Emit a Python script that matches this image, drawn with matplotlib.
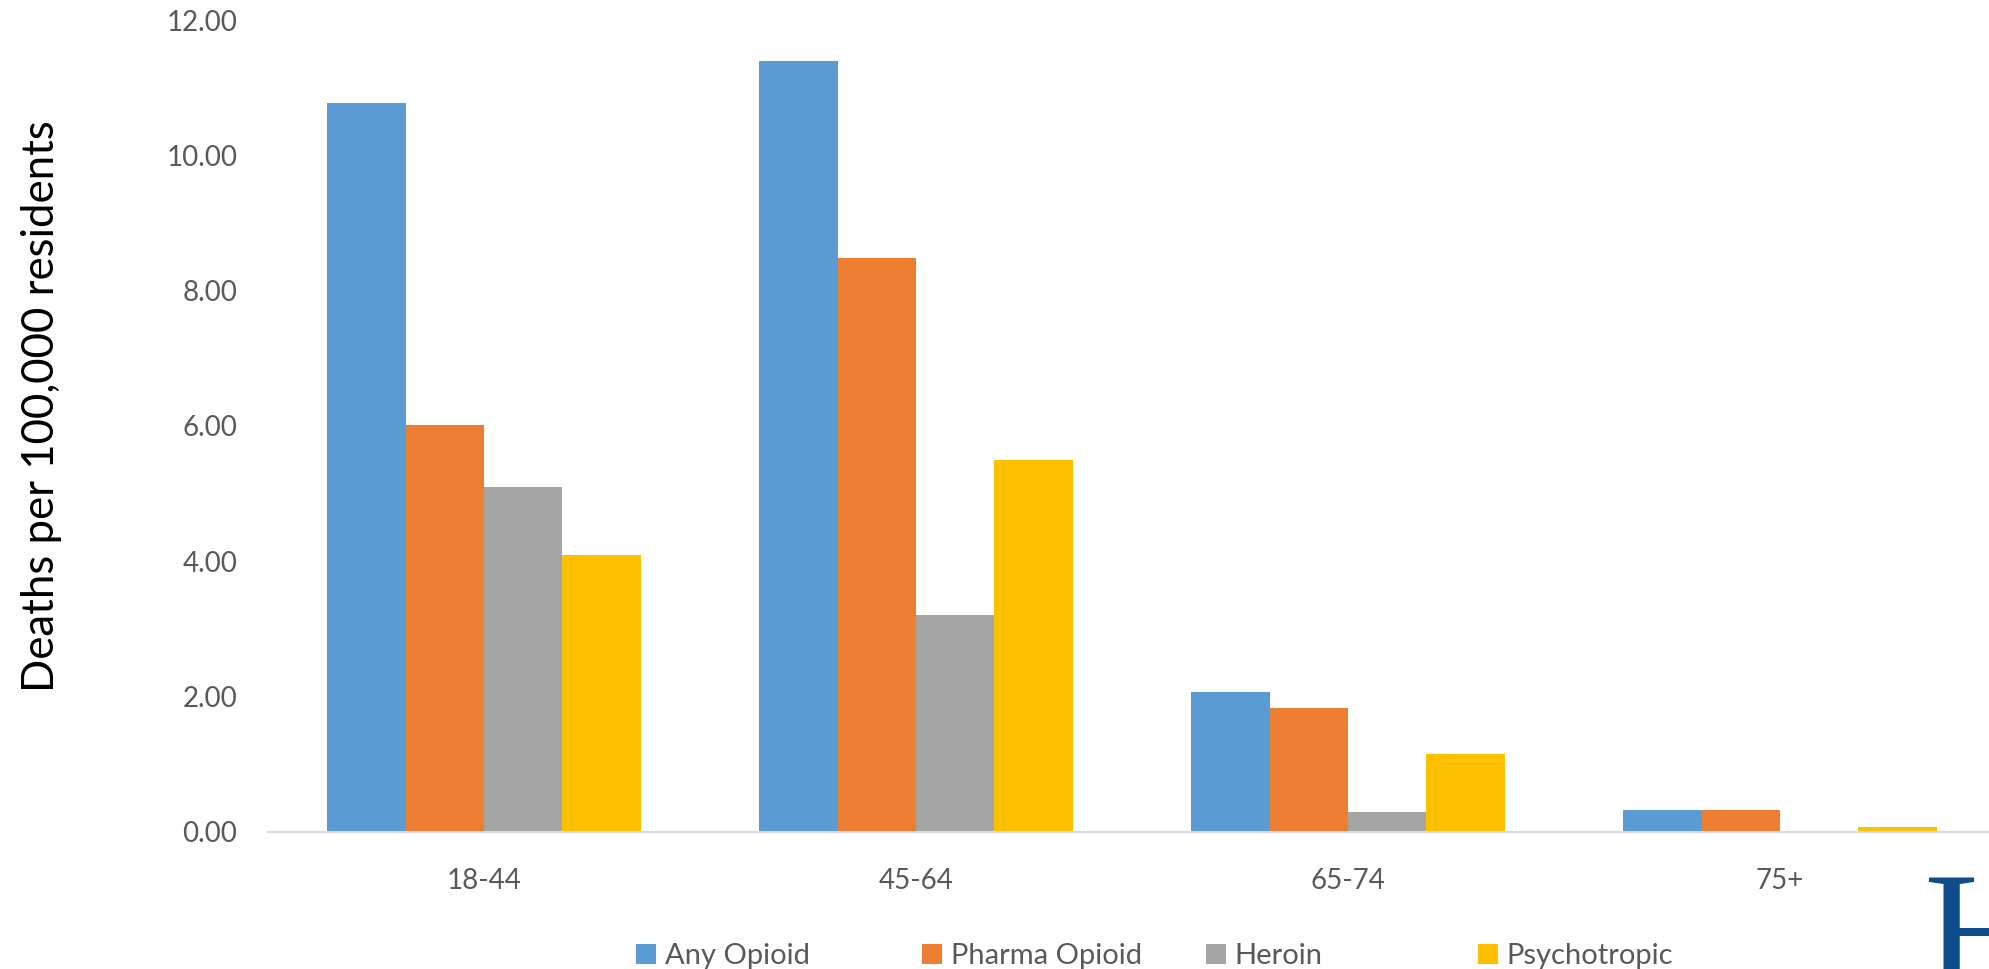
import matplotlib.pyplot as plt
import numpy as np

plt.rcParams["font.family"] = ["Lato", "DejaVu Sans"]

age_groups = ["18-44", "45-64", "65-74", "75+"]
series_names = ["Any Opioid", "Pharma Opioid", "Heroin", "Psychotropic"]
any_opioid = [10.77, 11.40, 2.07, 0.32]
pharma_opioid = [6.02, 8.49, 1.83, 0.32]
heroin = [5.10, 3.20, 0.30, 0.0]
psychotropic = [4.09, 5.50, 1.16, 0.08]
y_ticks = [0, 2, 4, 6, 8, 10, 12]

colors = ["#5B9BD5", "#ED7D31", "#A5A5A5", "#FFC000"]
tick_color = "#595959"


def main():
    W, H = 1990, 969
    fig = plt.figure(figsize=(W / 100, H / 100), dpi=100)
    # plot area: x 268..1996 px, y 20..832 px (runs past the right edge)
    ax = fig.add_axes([268 / W, (H - 832) / H, 1728 / W, 812 / H])

    x = np.arange(len(age_groups))
    width = 0.1814
    all_series = [any_opioid, pharma_opioid, heroin, psychotropic]
    for i, (vals, name, col) in enumerate(zip(all_series, series_names, colors)):
        ax.bar(x + (i - 1.5) * width, vals, width, color=col, label=name,
               linewidth=0)

    ax.set_xlim(-0.5, len(age_groups) - 0.5)
    ax.set_ylim(0, 12)
    ax.set_yticks(y_ticks)
    ax.set_yticklabels([f"{t:.2f}" for t in y_ticks])
    ax.set_xticks(x)
    ax.set_xticklabels(age_groups)
    ax.tick_params(axis="y", length=0, pad=22, labelsize=20, labelcolor=tick_color)
    ax.tick_params(axis="x", length=0, pad=26, labelsize=20, labelcolor=tick_color)

    for side in ["top", "right", "left"]:
        ax.spines[side].set_visible(False)
    ax.spines["bottom"].set_color("#D9D9D9")
    ax.spines["bottom"].set_linewidth(1.5)

    fig.text(42 / W, 1 - 406 / H, "Deaths per 100,000 residents", rotation=90,
             ha="center", va="center", fontsize=31.5, color="black")

    # legend entries in equal-ish slots like Excel
    handles, labels = ax.get_legend_handles_labels()
    slot_x = [636, 922, 1206, 1478]
    for h, lab, sx in zip(handles, labels, slot_x):
        leg = fig.legend([h], [lab], loc="center left",
                         bbox_to_anchor=(sx / W, 1 - 956 / H),
                         frameon=False, fontsize=21, handlelength=0.68,
                         handleheight=0.68, handletextpad=0.3,
                         borderpad=0, borderaxespad=0)
        for t in leg.get_texts():
            t.set_color(tick_color)

    # clipped logo fragment at the bottom-right corner
    fig.text(1924 / W, 1 - 990 / H, "H", family="Liberation Serif",
             fontsize=124, color="#0D4D8C", ha="left", va="baseline")

    fig.savefig("out.png", dpi=100)


if __name__ == "__main__":
    main()
